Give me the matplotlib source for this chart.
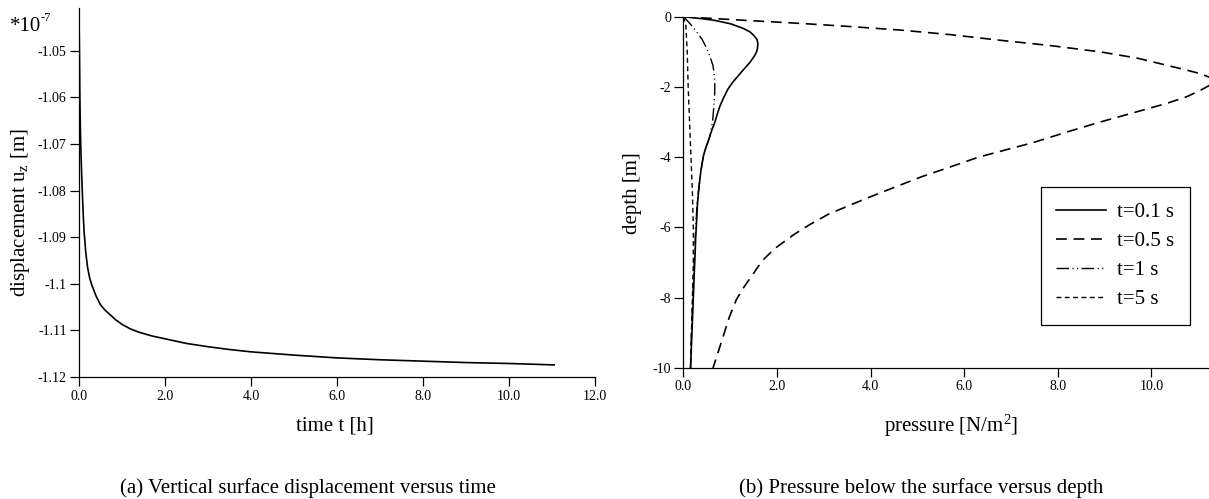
import numpy as np
import matplotlib
matplotlib.use("Agg")
from matplotlib import pyplot as plt
from matplotlib.ticker import FuncFormatter

plt.rcParams['font.family'] = ['Liberation Serif', 'DejaVu Serif']
plt.rcParams['mathtext.fontset'] = 'custom'
plt.rcParams['mathtext.rm'] = 'Liberation Serif'
plt.rcParams['mathtext.default'] = 'regular'
plt.rcParams['axes.unicode_minus'] = False

# (a) vertical surface displacement (*1e-7 m) vs time [h]
time_h = [0.0, 0.005, 0.01, 0.02, 0.03, 0.04, 0.06, 0.08, 0.1, 0.12, 0.16, 0.2,
          0.25, 0.3, 0.4, 0.5, 0.6, 0.72, 0.85, 1.0, 1.2, 1.4, 1.7, 2.0, 2.5,
          3.0, 3.5, 4.0, 5.0, 6.0, 7.0, 8.0, 9.0, 10.0, 11.05]
disp_uz = [-1.041, -1.046, -1.050, -1.060, -1.066, -1.070, -1.076, -1.081, -1.0855,
           -1.089, -1.0935, -1.0965, -1.0988, -1.1003, -1.1027, -1.1045, -1.1056,
           -1.1066, -1.1077, -1.1087, -1.1097, -1.1104, -1.1112, -1.1118, -1.1128,
           -1.1135, -1.1141, -1.1146, -1.1153, -1.1159, -1.1163, -1.1166, -1.1169,
           -1.1171, -1.1174]

# (b) pressure [N/m^2] vs depth [m]
depth_01 = [0, -0.05, -0.1, -0.2, -0.33, -0.43, -0.53, -0.65, -0.77, -0.9, -1.01,
            -1.15, -1.30, -1.48, -1.68, -1.87, -2.06, -2.3, -2.54, -2.78, -3.0,
            -3.25, -3.5, -3.75, -4.0, -4.4, -4.86, -5.3, -5.81, -6.3, -6.67, -7.3,
            -8.0, -9.0, -10.0]
press_01 = [0, 0.35, 0.65, 1.0, 1.27, 1.42, 1.5, 1.57, 1.59, 1.58, 1.56,
            1.5, 1.42, 1.3, 1.17, 1.05, 0.95, 0.86, 0.78, 0.72, 0.67,
            0.6, 0.54, 0.47, 0.42, 0.37, 0.33, 0.3, 0.28, 0.26, 0.25, 0.23,
            0.21, 0.18, 0.15]

depth_05 = [0, -0.03, -0.11, -0.19, -0.28, -0.38, -0.51, -0.67, -0.82, -1.0, -1.18,
            -1.38, -1.52, -1.62, -1.73, -1.85, -1.97, -2.10, -2.28, -2.47, -2.74,
            -3.0, -3.28, -3.58, -4.0, -4.3, -4.55, -4.86, -5.08, -5.33, -5.62,
            -5.9, -6.2, -6.6, -6.95, -7.3, -7.68, -8.05, -8.55, -9.05, -9.55, -10.0]
press_05 = [0, 0.35, 1.4, 2.49, 3.56, 4.63, 5.7, 6.76, 7.83, 8.9, 9.7,
            10.32, 10.75, 11.04, 11.25, 11.35, 11.22, 11.04, 10.75, 10.32, 9.6,
            8.9, 8.2, 7.48, 6.3, 5.65, 5.1, 4.5, 4.08, 3.62, 3.1,
            2.72, 2.36, 1.95, 1.68, 1.5, 1.3, 1.13, 0.98, 0.86, 0.74, 0.63]

depth_1 = [0, -0.07, -0.14, -0.28, -0.43, -0.65, -0.91, -1.15, -1.39, -1.68, -1.97,
           -2.25, -2.54, -3.0, -3.41, -3.7, -4.0, -4.4, -4.86, -5.3, -5.81, -6.3,
           -6.67, -7.3, -8.0, -9.0, -10.0]
press_1 = [0, 0.05, 0.1, 0.19, 0.28, 0.4, 0.5, 0.57, 0.63, 0.66, 0.67,
           0.665, 0.65, 0.62, 0.56, 0.49, 0.42, 0.37, 0.33, 0.29, 0.27, 0.25,
           0.24, 0.22, 0.2, 0.17, 0.15]

depth_5 = [0, -0.24, -1.0, -2.0, -3.0, -4.0, -5.0, -6.0, -7.0, -8.0, -9.0, -10.0]
press_5 = [0, 0.05, 0.08, 0.10, 0.13, 0.16, 0.19, 0.21, 0.21, 0.19, 0.17, 0.15]

W, H = 1209, 499
fig = plt.figure(figsize=(W / 100, H / 100), dpi=100)


def px_axes(x0, y0, x1, y1):
    # axes from pixel box (top-left origin)
    return fig.add_axes([x0 / W, 1 - y1 / H, (x1 - x0) / W, (y1 - y0) / H])


def style(ax):
    for s in ['top', 'right']:
        ax.spines[s].set_visible(False)
    for s in ['left', 'bottom']:
        ax.spines[s].set_linewidth(0.9)
    ax.tick_params(direction='out', length=6.5, width=0.9, labelsize=10, pad=2.5)


#%% (a)
ax1 = px_axes(79, 8, 595, 377)
style(ax1)
ax1.plot(time_h, disp_uz, color='black', lw=1.2)
ax1.set_xlim(0, 12)
ax1.set_ylim(-1.12, -1.0408)
ax1.set_xticks(np.arange(0, 12.1, 2))
ax1.set_yticks([-1.05, -1.06, -1.07, -1.08, -1.09, -1.10, -1.11, -1.12])
ax1.xaxis.set_major_formatter(FuncFormatter(lambda v, p: f"{v:.1f}"))
ax1.yaxis.set_major_formatter(FuncFormatter(lambda v, p: f"{v:g}"))

#%% (b)
ax2 = px_axes(683.5, 16.7, 1209, 368)
style(ax2)
ax2.plot(press_01, depth_01, color='black', lw=1.2, label='t=0.1 s')
ax2.plot(press_05, depth_05, color='black', lw=1.2, ls=(0, (6.5, 4)), label='t=0.5 s')
ax2.plot(press_1, depth_1, color='black', lw=1.0, ls=(0, (9, 2.5, 0.8, 2.5, 0.8, 2.5)),
         label='t=1 s')
ax2.plot(press_5, depth_5, color='black', lw=1.0, ls=(0, (3.5, 2.5)), label='t=5 s')
ax2.set_xlim(0, 11.23)
ax2.set_ylim(-10, 0)
ax2.set_xticks(np.arange(0, 10.1, 2))
ax2.set_yticks(np.arange(-10, 0.1, 2))
ax2.xaxis.set_major_formatter(FuncFormatter(lambda v, p: f"{v:.1f}"))
ax2.yaxis.set_major_formatter(FuncFormatter(lambda v, p: f"{v:g}"))
leg = ax2.legend(loc='upper left', bbox_to_anchor=(0.680, 0.515), fontsize=15,
                 frameon=True, fancybox=False, framealpha=1, edgecolor='black',
                 handlelength=2.4, handletextpad=0.5, borderpad=0.75,
                 labelspacing=0.45, borderaxespad=0)
leg.get_frame().set_linewidth(0.9)

#%% labels and captions
fig.text(335 / W, 1 - 426 / H, 'time t [h]', fontsize=15, ha='center', va='center')
fig.text(951 / W, 1 - 426 / H, 'pressure [N/m$^2$]', fontsize=15, ha='center', va='center')
fig.text(21 / W, 1 - 213 / H, 'displacement u$_z$ [m]', fontsize=15, rotation=90,
         ha='center', va='center')
fig.text(633 / W, 1 - 193 / H, 'depth [m]', fontsize=15, rotation=90,
         ha='center', va='center')
fig.text(10 / W, 1 - 31 / H, '*10', fontsize=15, ha='left', va='baseline')
fig.text(41 / W, 1 - 21 / H, '-7', fontsize=9, ha='left', va='baseline')
fig.text(308 / W, 1 - 488 / H, '(a) Vertical surface displacement versus time',
         fontsize=15, ha='center', va='center')
fig.text(921 / W, 1 - 488 / H, '(b) Pressure below the surface versus depth',
         fontsize=15, ha='center', va='center')

fig.savefig('out.png', dpi=100)
